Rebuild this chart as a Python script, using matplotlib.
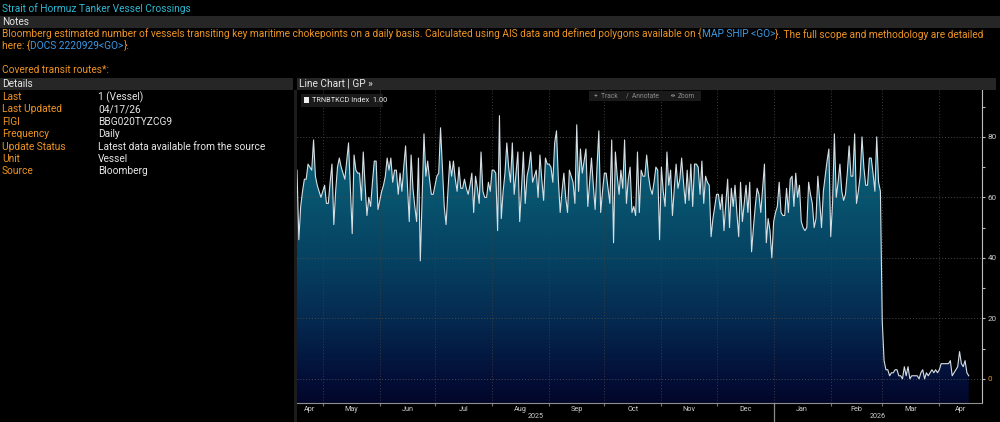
import numpy as np
import pandas as pd
import matplotlib
matplotlib.use("Agg")
import matplotlib.pyplot as plt
import matplotlib.dates as mdates
from matplotlib.colors import LinearSegmentedColormap
from matplotlib.patches import Rectangle, Circle

# daily tanker crossings, Strait of Hormuz
start_date = "2025-04-17"
crossings = [
    69, 46, 57, 62, 66, 66, 71, 70, 69, 79, 67, 64, 62, 60, 62, 64, 58, 58, 65, 71,
    51, 62, 70, 73, 70, 68, 66, 72, 78, 63, 48, 74, 69, 68, 68, 59, 75, 64, 54, 60,
    57, 65, 72, 72, 56, 59, 62, 64, 67, 73, 69, 73, 65, 69, 69, 61, 68, 62, 70, 77,
    64, 52, 74, 63, 57, 52, 73, 39, 60, 81, 67, 72, 66, 61, 61, 64, 67, 68, 83, 70,
    57, 51, 62, 72, 67, 72, 66, 62, 70, 63, 63, 66, 63, 61, 64, 68, 55, 67, 63, 58,
    75, 62, 60, 60, 65, 62, 69, 69, 68, 49, 87, 53, 62, 68, 78, 70, 65, 78, 61, 68,
    75, 52, 63, 75, 58, 67, 70, 75, 65, 67, 69, 60, 74, 66, 59, 73, 71, 71, 70, 65,
    78, 82, 66, 55, 62, 68, 60, 55, 69, 67, 65, 58, 84, 62, 76, 68, 72, 76, 57, 65,
    73, 64, 56, 70, 82, 55, 62, 68, 68, 63, 58, 79, 45, 75, 67, 61, 69, 63, 79, 58,
    66, 70, 55, 57, 54, 75, 55, 69, 67, 67, 74, 67, 63, 61, 65, 70, 69, 46, 70, 62,
    57, 75, 64, 69, 54, 63, 71, 63, 66, 73, 65, 58, 69, 59, 71, 57, 71, 71, 70, 61,
    72, 58, 67, 65, 64, 47, 53, 57, 61, 61, 56, 61, 49, 58, 66, 50, 63, 57, 64, 55,
    47, 65, 52, 58, 64, 55, 65, 42, 50, 57, 63, 61, 55, 63, 71, 45, 53, 49, 40, 52,
    55, 57, 65, 55, 54, 54, 63, 55, 66, 67, 57, 68, 60, 64, 52, 50, 49, 50, 65, 61,
    58, 50, 53, 67, 59, 50, 62, 67, 72, 76, 47, 58, 81, 60, 65, 71, 62, 59, 61, 68,
    77, 67, 67, 81, 58, 62, 67, 80, 70, 64, 64, 73, 73, 68, 62, 80, 65, 62, 19, 6,
    3, 3, 1, 2, 2, 3, 3, 1, 1, 0, 4, 1, 4, 0, 1, 1, 1, 1, 0, 2,
    3, 0, 2, 1, 2, 3, 2, 3, 2, 3, 5, 5, 5, 5, 5, 6, 1, 2, 3, 4,
    9, 5, 4, 6, 2, 1,
]
dates = pd.date_range(start_date, periods=len(crossings), freq="D")

y_ticks = [0, 20, 40, 60, 80]
detail_labels = ["Last", "Last Updated", "FIGI", "Frequency", "Update Status", "Unit", "Source"]
detail_values = ["1 (Vessel)", "04/17/26", "BBG020TYZCG9", "Daily",
                 "Latest data available from the source", "Vessel", "Bloomberg"]

note_1 = ("Bloomberg estimated number of vessels transiting key maritime chokepoints on a daily basis. "
          "Calculated using AIS data and defined polygons available on {")
note_1b = "}. The full scope and methodology are detailed"

W, H = 1000, 422
BG = "#000000"
ORANGE = "#ee9424"
CYAN = "#2fb8d2"
BLUE = "#3d9ae6"
WHITE = "#e6e6e6"
BAND = "#262626"
FONT = ["Roboto", "DejaVu Sans"]

fig = plt.figure(figsize=(W / 100, H / 100), dpi=100, facecolor=BG)
renderer = fig.canvas.get_renderer()

# pick a font size so the first notes line spans the width as in the screenshot
probe = fig.text(0, 0, note_1 + "MAP SHIP <GO>" + note_1b, fontsize=10, family=FONT)
FS = 10 * 983 / probe.get_window_extent(renderer).width
probe.remove()


def fx(x):
    return x / W


def fy(y):
    return 1 - y / H


def band(x0, y0, x1, y1, color=BAND):
    fig.patches.append(Rectangle((fx(x0), fy(y1)), fx(x1 - x0), (y1 - y0) / H,
                                 transform=fig.transFigure, color=color, lw=0, zorder=0))


def txt(x, y, s, color=WHITE, size=None, **kw):
    return fig.text(fx(x), fy(y), s, color=color, fontsize=size or FS, family=FONT,
                    va="center", ha="left", **kw)


def chain(x, y, parts):
    # draw coloured text pieces one after another on one line
    for s, c in parts:
        t = txt(x, y, s, color=c)
        x = t.get_window_extent(renderer).x1


# header texts
txt(2, 9, "Strait of Hormuz Tanker Vessel Crossings", color=CYAN)
band(0, 16, W, 28)
txt(2, 22, "Notes")
chain(2, 34, [(note_1, ORANGE), ("MAP SHIP <GO>", BLUE), (note_1b, ORANGE)])
chain(2, 46, [("here: {", ORANGE), ("DOCS 2220929<GO>", BLUE), ("}.", ORANGE)])
txt(2, 70, "Covered transit routes*:", color=ORANGE)

# details panel
band(0, 78, 293, 90)
txt(2, 84, "Details")
for i, (lab, val) in enumerate(zip(detail_labels, detail_values)):
    yy = 97 + i * 12.4
    txt(2, yy, lab, color=ORANGE)
    txt(98, yy, val)
band(294, 90, 297, H, color="#1c1c1c")

# chart header
band(297, 78, 996, 90)
txt(299, 84, "Line Chart | GP \u00bb")

# chart axes
ax_top, ax_bot, ax_l, ax_r = 90, 403, 297, 982
ax = fig.add_axes([fx(ax_l), 1 - ax_bot / H, (ax_r - ax_l) / W, (ax_bot - ax_top) / H])
ax.set_facecolor(BG)

x0 = mdates.date2num(dates[0])
x1 = x0 + 372.2
ylo, yhi = -8, 95.5

poly = ax.fill_between(dates, crossings, ylo, color="none", lw=0)
cmap = LinearSegmentedColormap.from_list("bbg", [
    (0.0, "#02072a"), (0.08, "#030f38"), (0.27, "#052a50"), (0.46, "#064262"),
    (0.66, "#08546f"), (0.85, "#0a6078"), (1.0, "#0b6680")])
grad = np.linspace(1, 0, 256).reshape(-1, 1)
im = ax.imshow(grad, cmap=cmap, extent=[x0, x1, ylo, yhi], aspect="auto",
               origin="upper", zorder=1)
im.set_clip_path(poly.get_paths()[0], transform=ax.transData)
ax.plot(dates, crossings, color="#d6dfe4", lw=0.8, zorder=3)

ax.set_xlim(x0, x1)
ax.set_ylim(ylo, yhi)

# y axis on the right
ax.yaxis.tick_right()
ax.set_yticks(y_ticks)
ax.set_yticks([10, 30, 50, 70, 90], minor=True)
ax.tick_params(axis="y", which="both", colors="#bdbdbd", labelcolor="#cfcfcf",
               labelsize=5.8, length=2, width=0.8, pad=2)
ax.get_yticklabels()[0].set_color(ORANGE)
ax.grid(axis="y", which="major", color="#4a4a4a", ls=(0, (1, 2)), lw=0.7)

# month boundaries and labels
month_starts = pd.date_range("2025-05-01", "2026-04-01", freq="MS")
ax.set_xticks(mdates.date2num(month_starts))
ax.set_xticklabels([])
ax.grid(axis="x", which="major", color="#3c3c3c", ls=(0, (1, 2)), lw=0.7)
ax.tick_params(axis="x", which="major", colors="#777777", length=2, width=0.8)

edges = [x0] + list(mdates.date2num(month_starts)) + [x1]
centers = [(a + b) / 2 for a, b in zip(edges[:-1], edges[1:])]
month_names = [d.strftime("%b") for d in pd.date_range("2025-04-01", "2026-04-01", freq="MS")]
ax.set_xticks(centers, minor=True)
ax.set_xticklabels(month_names, minor=True)
ax.tick_params(axis="x", which="minor", length=0, labelsize=5.2, labelcolor="#cfcfcf", pad=2)

for lab in ax.get_xticklabels(minor=True) + ax.get_yticklabels():
    lab.set_family(FONT)

# year labels and divider
jan1 = mdates.date2num(pd.Timestamp("2026-01-01"))
trans = ax.get_xaxis_transform()
ax.plot([jan1, jan1], [0, -19 / (ax_bot - ax_top)], transform=trans, color="#8a8a8a",
        lw=0.9, clip_on=False)
ax.text((x0 + jan1) / 2, -14 / (ax_bot - ax_top), "2025", transform=trans, ha="center",
        va="center", fontsize=5.2, color="#cfcfcf", family=FONT)
ax.text((jan1 + x1) / 2, -14 / (ax_bot - ax_top), "2026", transform=trans, ha="center",
        va="center", fontsize=5.2, color="#cfcfcf", family=FONT)

for side in ["left", "top"]:
    ax.spines[side].set_visible(False)
ax.spines["right"].set_color("#bdbdbd")
ax.spines["bottom"].set_color("#8f8f8f")

# legend and toolbar
band(301, 94, 383, 107, color="#1a1a1a")
band(304, 97, 309, 103, color="#f0f0f0")
txt(312, 100.5, "TRNBTKCD Index  1.00", size=5.3)
band(589, 91, 701, 101, color="#1a1a1a")
txt(594, 96, "+  Track", color="#8c8c8c", size=4.8)
txt(626, 96, "/  Annotate", color="#8c8c8c", size=4.8)
fig.patches.append(Circle((fx(673), fy(95.5)), 1.6 / W, transform=fig.transFigure,
                          fill=False, ec="#8c8c8c", lw=0.6))
txt(678, 96, "Zoom", color="#8c8c8c", size=4.8)

fig.savefig("out.png", dpi=100, facecolor=BG)
